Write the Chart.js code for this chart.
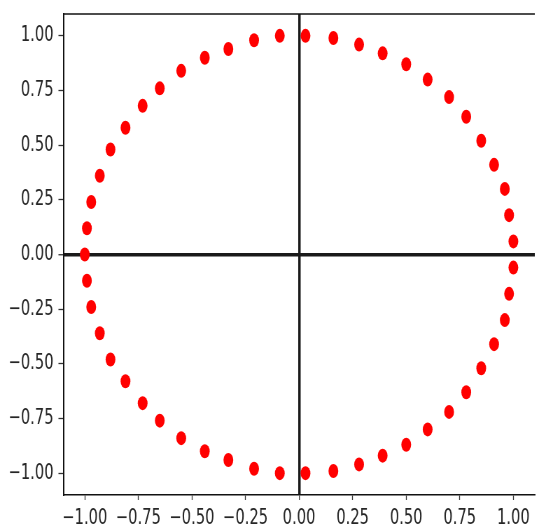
<!DOCTYPE html>
<html>
<head>
<meta charset="utf-8">
<script src="https://cdn.jsdelivr.net/npm/chart.js@4"></script>
<style>
  html, body { margin: 0; padding: 0; background: #fff; overflow: hidden; }
  #frame { width: 537px; height: 531px; overflow: hidden; position: relative; }
  /* the reference is squeezed sideways, so draw wide and scale down */
  #wrap { position: absolute; left: 0; top: 0; width: 771px; height: 531px;
          transform: scaleX(0.7); transform-origin: 0 0; }
</style>
</head>
<body>
<div id="frame"><div id="wrap"><canvas id="circleChart" width="771" height="531"></canvas></div></div>
<script>
// points
const xValues = [
  -1.00, -0.99, -0.97, -0.93, -0.88, -0.81, -0.73, -0.65, -0.55, -0.44, -0.33, -0.21, -0.09,
   0.03,  0.16,  0.28,  0.39,  0.50,  0.60,  0.70,  0.78,  0.85,  0.91,  0.96,  0.98,  1.00,
   1.00,  0.98,  0.96,  0.91,  0.85,  0.78,  0.70,  0.60,  0.50,  0.39,  0.28,  0.16,  0.03,
  -0.09, -0.21, -0.33, -0.44, -0.55, -0.65, -0.73, -0.81, -0.88, -0.93, -0.97, -0.99
];
const yValues = [
   0.00,  0.12,  0.24,  0.36,  0.48,  0.58,  0.68,  0.76,  0.84,  0.90,  0.94,  0.98,  1.00,
   1.00,  0.99,  0.96,  0.92,  0.87,  0.80,  0.72,  0.63,  0.52,  0.41,  0.30,  0.18,  0.06,
  -0.06, -0.18, -0.30, -0.41, -0.52, -0.63, -0.72, -0.80, -0.87, -0.92, -0.96, -0.99, -1.00,
  -1.00, -0.98, -0.94, -0.90, -0.84, -0.76, -0.68, -0.58, -0.48, -0.36, -0.24, -0.12
];
const xTicks = [-1.0, -0.75, -0.5, -0.25, 0, 0.25, 0.5, 0.75, 1.0];
const yTicks = [-1.0, -0.75, -0.5, -0.25, 0, 0.25, 0.5, 0.75, 1.0];

const fmt = v => (v < 0 ? "\u2212" : "") + Math.abs(v).toFixed(2);

Chart.defaults.font.family = "'DejaVu Sans', sans-serif";
Chart.defaults.font.size = 21;
Chart.defaults.color = "#262626";

// top spine (right one falls outside the picture)
const topSpine = {
  id: "topSpine",
  afterDraw(chart) {
    const { ctx, chartArea } = chart;
    ctx.save();
    ctx.strokeStyle = "#111";
    ctx.lineWidth = 1.5;
    ctx.beginPath();
    ctx.moveTo(chartArea.left, chartArea.top);
    ctx.lineTo(chartArea.right, chartArea.top);
    ctx.stroke();
    ctx.restore();
  }
};

const zeroGrid = (tickLength) => ({
  color: c => (c.tick && c.tick.value === 0 ? "#1a1a1a" : "rgba(0,0,0,0)"),
  lineWidth: c => (c.tick && c.tick.value === 0 ? 3.5 : 1),
  tickColor: "#333",
  tickWidth: 1.3,
  tickLength: tickLength
});

new Chart(document.getElementById("circleChart"), {
  type: "scatter",
  data: {
    datasets: [{
      data: xValues.map((x, i) => ({ x: x, y: yValues[i] })),
      backgroundColor: "#ff0000",
      borderWidth: 0,
      pointRadius: 7,
      pointHoverRadius: 7
    }]
  },
  options: {
    responsive: false,
    animation: false,
    layout: { padding: { top: 14, left: 0, right: 0, bottom: 0 } },
    plugins: { legend: { display: false }, tooltip: { enabled: false } },
    scales: {
      x: {
        type: "linear",
        min: -1.1,
        max: 1.1,
        z: 1,
        afterBuildTicks: axis => { axis.ticks = xTicks.map(v => ({ value: v })); },
        afterFit: axis => { axis.height = 36; axis.paddingLeft = 0; axis.paddingRight = 0; },
        ticks: { callback: v => fmt(v), padding: 6, maxRotation: 0, autoSkip: false },
        grid: zeroGrid(5),
        border: { color: "#111", width: 1.5 }
      },
      y: {
        type: "linear",
        min: -1.1,
        max: 1.1,
        z: 1,
        afterBuildTicks: axis => { axis.ticks = yTicks.map(v => ({ value: v })); },
        afterFit: axis => { axis.width = 90.5; axis.paddingTop = 0; axis.paddingBottom = 0; },
        ticks: { callback: v => fmt(v), padding: 7, autoSkip: false },
        grid: zeroGrid(7),
        border: { color: "#111", width: 2 }
      }
    }
  },
  plugins: [topSpine]
});
</script>
</body>
</html>
